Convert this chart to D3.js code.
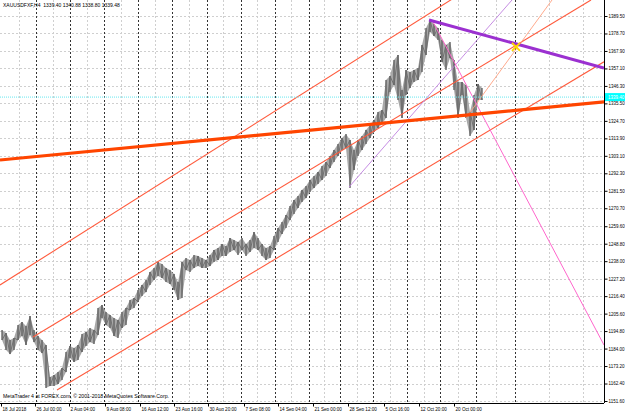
<!DOCTYPE html>
<html><head><meta charset="utf-8">
<script src="https://cdn.jsdelivr.net/npm/d3@7"></script>
<style>body{margin:0;background:#fff}svg{display:block}</style>
</head><body><svg id="c" width="625" height="411"></svg>
<script>
const titleText = "XAUUSDFXF,H4  1339.40 1340.88 1338.80 1339.48";
const creditText = "MetaTrader 4 at FOREX.com, \u00A9 2001-2018 MetaQuotes Software Corp.";
const priceTicks = [1389.50,1378.70,1367.90,1357.10,1346.30,1335.50,1324.70,1313.90,1303.10,1292.30,1281.50,1270.70,1259.60,1248.80,1238.00,1227.20,1216.40,1205.60,1194.80,1184.00,1173.20,1162.40,1151.60];
const priceTickLabels = ["1389.50","1378.70","1367.90","1357.10","1346.30","1335.50","1324.70","1313.90","1303.10","1292.30","1281.50","1270.70","1259.60","1248.80","1238.00","1227.20","1216.40","1205.60","1194.80","1184.00","1173.20","1162.40","1151.60"];
// price samples (each = 4 H4 bars): highs and lows
const highs = [1195.5,1193.6,1189.3,1190.5,1198.5,1200.4,1197.9,1204.1,1195.5,1191.8,1189.3,1186.2,1166.4,1167.6,1169.5,1172.0,1181.9,1185.6,1184.3,1186.2,1193.0,1194.2,1196.7,1195.5,1209.1,1210.9,1206.6,1204.7,1202.9,1201.6,1206.6,1209.1,1214.0,1215.2,1220.2,1223.3,1226.4,1231.3,1233.8,1237.5,1236.2,1233.8,1232.5,1230.1,1225.1,1237.5,1240.0,1238.7,1241.8,1241.2,1240.0,1238.7,1241.8,1244.9,1246.1,1248.6,1247.4,1252.3,1251.1,1249.8,1252.3,1248.6,1251.1,1256.0,1252.3,1248.6,1246.1,1247.4,1253.6,1258.5,1262.2,1266.5,1272.1,1275.8,1278.3,1282.0,1284.5,1288.2,1290.6,1293.1,1296.8,1299.3,1303.0,1306.7,1310.4,1314.1,1316.6,1312.9,1306.7,1312.9,1315.4,1319.1,1322.1,1325.2,1330.2,1331.4,1350.0,1352.4,1362.3,1365.4,1343.8,1356.1,1354.9,1356.1,1357.4,1371.6,1382.1,1387.0,1384.6,1382.1,1374.7,1371.6,1373.4,1362.3,1348.7,1348.7,1346.9,1330.2,1340.7,1347.5,1345.0];
const lows = [1189.3,1183.1,1180.6,1183.1,1189.3,1191.8,1186.2,1192.4,1188.0,1183.1,1181.2,1159.6,1160.9,1160.9,1162.1,1164.6,1169.5,1178.2,1175.7,1176.9,1181.9,1185.6,1188.0,1186.8,1192.4,1202.9,1198.5,1196.7,1191.8,1190.5,1196.7,1198.5,1207.8,1209.1,1212.8,1216.5,1218.9,1223.3,1226.4,1228.8,1227.6,1225.1,1223.9,1220.2,1214.0,1215.2,1232.5,1231.3,1233.8,1235.0,1233.8,1233.8,1235.0,1237.5,1238.7,1241.2,1241.2,1243.7,1244.9,1241.8,1244.9,1241.2,1243.7,1246.1,1244.9,1241.2,1238.7,1240.0,1244.9,1249.8,1254.8,1258.5,1263.4,1267.1,1270.9,1274.6,1277.0,1280.7,1283.2,1285.7,1288.2,1290.6,1295.6,1299.3,1303.0,1306.7,1307.9,1283.2,1294.3,1303.0,1306.7,1310.4,1314.1,1317.8,1320.3,1322.8,1326.5,1342.5,1346.9,1337.6,1326.5,1340.7,1345.0,1348.7,1350.0,1354.9,1365.4,1379.6,1377.2,1374.7,1361.1,1356.1,1363.6,1343.8,1326.5,1340.7,1326.5,1315.4,1319.1,1337.6,1337.6];
const timeLabels = ["18 Jul 2018","26 Jul 00:00","2 Aug 04:00","9 Aug 08:00","16 Aug 12:00","23 Aug 16:00","30 Aug 20:00","7 Sep 08:00","14 Sep 04:00","21 Sep 00:00","28 Sep 12:00","5 Oct 16:00","12 Oct 20:00","20 Oct 00:00"];
const timeLabelIdx = [-0.25,8.25,16.75,25.75,34.5,43,51.5,60.5,69,77.75,86.5,95.5,104.25,113];
const separatorIdx = [8.5,17,25.5,34,42.5,51.25,59.75,68.25,76.75,84.5,92.75,101.25,109.5,118.5,128.25];
const gridIdx = [4.25,12.75,21.25,29.75,38.25,46.75,55.25,63.75,72.25,80.5,88.75,97,105.5,114,123.5,136.75,145.25];
const bidPrice = 1339.40;
const bidLabel = "1339.40";
// trend objects: [k1, p1, k2, p2]
const supportLine = [-0.5,1300.5,150.5,1336.4];
const channelLines = [[13.75,1158.4,150.5,1361.2],[7.75,1191.1,147.25,1399.4],[-0.5,1223.3,150.5,1459.3]];
const purpleLine = [106.75,1387.0,150.5,1357.4];
const crossPoint = [128.5,1370.4];
const pinkLine = [107.75,1385.8,150.5,1186.2];
const fanLine1 = [86.75,1283.8,127.5,1399.4];
const fanLine2 = [116,1326.5,137.5,1399.4];

const svg = d3.select("#c");
const W = 625, H = 411, R = 604, B = 403;
const x = d3.scaleLinear().domain([-0.5,150.5]).range([0,R]);
const y = d3.scaleLinear().domain([1151.6,1389.5]).range([401,16]);

svg.append("defs").append("clipPath").attr("id","clip").append("rect").attr("x",0).attr("y",0).attr("width",R).attr("height",B);
const g = svg.append("g").attr("clip-path","url(#clip)");

g.selectAll(".hg").data(priceTicks).join("line").attr("x1",0).attr("x2",R)
 .attr("y1",d=>Math.round(y(d))+0.5).attr("y2",d=>Math.round(y(d))+0.5)
 .attr("stroke","#cfcfcf").attr("stroke-width",1).attr("stroke-dasharray","2,2");
g.selectAll(".vg").data(gridIdx).join("line").attr("y1",0).attr("y2",B)
 .attr("x1",d=>Math.round(x(d))+0.5).attr("x2",d=>Math.round(x(d))+0.5)
 .attr("stroke","#cfcfcf").attr("stroke-width",1).attr("stroke-dasharray","2,2");
g.selectAll(".sep").data(separatorIdx).join("line").attr("y1",0).attr("y2",B)
 .attr("x1",d=>Math.round(x(d))+0.5).attr("x2",d=>Math.round(x(d))+0.5)
 .attr("stroke","#333").attr("stroke-width",1).attr("stroke-dasharray","2,2");

// price
const pts = highs.map((h,i)=>({k:i,h:h,l:lows[i]}));
g.append("path").datum(pts)
 .attr("d", d3.area().x(d=>x(d.k)).y0(d=>y(d.l)).y1(d=>y(d.h)))
 .attr("fill","#a8a8a8").attr("stroke","none");
g.selectAll(".bar").data(pts).join("line")
 .attr("x1",d=>x(d.k)).attr("x2",d=>x(d.k)).attr("y1",d=>y(d.h)).attr("y2",d=>y(d.l))
 .attr("stroke","#5e5e5e").attr("stroke-width",1.3);
g.append("path").datum(pts)
 .attr("d", d3.line().x(d=>x(d.k)).y((d,i)=>y(i%2?d.h:d.l)))
 .attr("fill","none").attr("stroke","#6a6a6a").attr("stroke-width",0.9);

function seg(a, color, w, op){
  return g.append("line").attr("x1",x(a[0])).attr("y1",y(a[1])).attr("x2",x(a[2])).attr("y2",y(a[3]))
   .attr("stroke",color).attr("stroke-width",w).attr("opacity",op||1);
}
channelLines.forEach(c=>seg(c,"#ff5a3c",1.1));
seg(fanLine1,"#c080e0",0.9);
seg(fanLine2,"#ffa080",0.9);
seg(pinkLine,"#ff66cc",1);
seg(supportLine,"#ff4500",3.2);
seg(purpleLine,"#9b30d0",3);
const cx = x(crossPoint[0]), cy = y(crossPoint[1]);
g.append("path").attr("d",`M${cx-4},${cy-4}L${cx+4},${cy+4}M${cx-4},${cy+4}L${cx+4},${cy-4}`)
 .attr("stroke","#ffd700").attr("stroke-width",2);
g.append("line").attr("x1",0).attr("x2",R).attr("y1",y(bidPrice)).attr("y2",y(bidPrice))
 .attr("stroke","#66e8f0").attr("stroke-width",1).attr("stroke-dasharray","1,1");

svg.append("line").attr("x1",R+0.5).attr("x2",R+0.5).attr("y1",0).attr("y2",B).attr("stroke","#000");
svg.append("line").attr("x1",0).attr("x2",R).attr("y1",B+0.5).attr("y2",B+0.5).attr("stroke","#000");
const yAxis = d3.axisRight(y).tickValues(priceTicks).tickFormat((d,i)=>priceTickLabels[i]).tickSize(3).tickPadding(1);
const ya = svg.append("g").attr("transform",`translate(${R+0.5},0)`).call(yAxis);
ya.select(".domain").remove();
ya.selectAll("text").attr("font-family","Liberation Sans, Arial, sans-serif").attr("font-size",4.5).attr("fill","#000");
const xAxis = d3.axisBottom(x).tickValues(timeLabelIdx).tickFormat((d,i)=>timeLabels[i]).tickSize(3).tickPadding(1);
const xa = svg.append("g").attr("transform",`translate(0,${B+0.5})`).call(xAxis);
xa.select(".domain").remove();
xa.selectAll("text").attr("text-anchor","start").attr("dx",1).attr("font-family","Liberation Sans, Arial, sans-serif").attr("font-size",4.6).attr("fill","#000");

svg.append("rect").attr("x",R+1).attr("y",y(bidPrice)-4).attr("width",W-R-1).attr("height",8).attr("fill","#00ffff");
svg.append("text").attr("x",R+4).attr("y",y(bidPrice)+2).text(bidLabel).attr("font-family","Liberation Sans, Arial, sans-serif").attr("font-size",4.5).attr("fill","#fff");

svg.append("text").attr("x",3).attr("y",7).text(titleText).attr("font-family","Liberation Sans, Arial, sans-serif").attr("font-size",5).attr("fill","#000").style("white-space","pre");
svg.append("text").attr("x",3).attr("y",398).text(creditText).attr("font-family","Liberation Sans, Arial, sans-serif").attr("font-size",5.2).attr("fill","#000");
</script></body></html>
